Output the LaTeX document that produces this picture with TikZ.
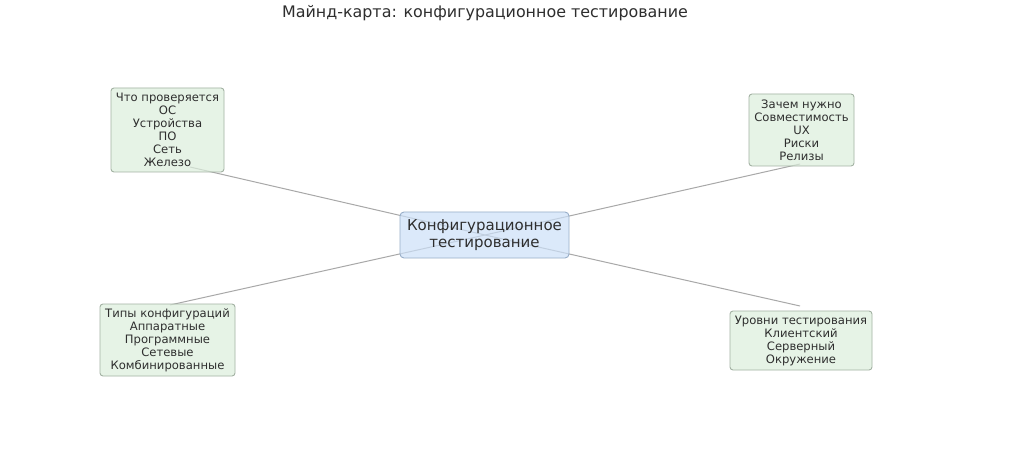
\documentclass[tikz,border=0pt]{standalone}
\usepackage{fontspec}
\setmainfont{DejaVu Sans}
\definecolor{cfill}{HTML}{CCE0F8}
\definecolor{cdraw}{HTML}{98AEC8}
\definecolor{lfill}{HTML}{DCEEDC}
\definecolor{ldraw}{HTML}{A3B2A3}
\definecolor{edge}{HTML}{A8A8A8}
\definecolor{txt}{HTML}{2E2E2E}
\begin{document}
\begin{tikzpicture}[x=1pt,y=-1pt,
  centerbox/.style={draw=cdraw, fill=cfill, fill opacity=0.7, text opacity=1, rounded corners=4pt, line width=0.9pt,
    align=center, inner sep=0pt, text=txt, font=\fontsize{15}{16.5}\selectfont},
  leafbox/.style={draw=ldraw, fill=lfill, fill opacity=0.7, text opacity=1, rounded corners=3pt, line width=0.9pt,
    align=center, inner sep=0pt, text=txt, font=\fontsize{11.6}{13}\selectfont},
  link/.style={draw=edge, line width=1pt}]
\useasboundingbox (0,0) rectangle (1024,454);
\fill[white] (0,0) rectangle (1024,454);
\node[text=txt, font=\fontsize{15.9}{18}\selectfont] (title) at (485,13) {Майнд-карта: конфигурационное тестирование};
\coordinate (cc) at (485,235);
\coordinate (eul) at (190,167);
\coordinate (eur) at (800,164);
\coordinate (ell) at (170,305);
\coordinate (elr) at (800,306);
\draw[link] (cc) -- (eul);
\draw[link] (cc) -- (eur);
\draw[link] (cc) -- (ell);
\draw[link] (cc) -- (elr);
\node[centerbox, minimum width=169pt, minimum height=46pt] (cen) at (484.5,235) {Конфигурационное\\тестирование};
\node[leafbox, minimum width=113pt, minimum height=84pt] (ul) at (167.5,130) {Что проверяется\\ОС\\Устройства\\ПО\\Сеть\\Железо};
\node[leafbox, minimum width=105pt, minimum height=72pt] (ur) at (801.5,130) {Зачем нужно\\Совместимость\\UX\\Риски\\Релизы};
\node[leafbox, minimum width=135pt, minimum height=72pt] (ll) at (167.5,340) {Типы конфигураций\\Аппаратные\\Программные\\Сетевые\\Комбинированные};
\node[leafbox, minimum width=142pt, minimum height=59pt] (lr) at (801,340.5) {Уровни тестирования\\Клиентский\\Серверный\\Окружение};
\end{tikzpicture}
\end{document}
